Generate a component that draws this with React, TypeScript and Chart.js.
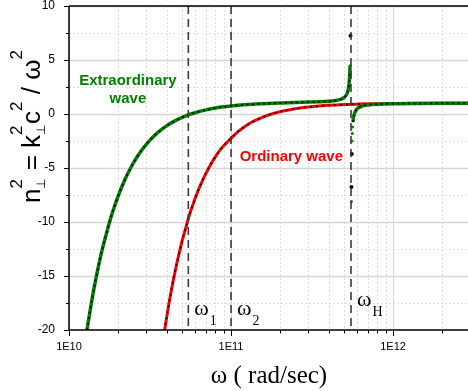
import React, { useEffect, useRef } from "react";
import { Chart, registerables } from "chart.js";

Chart.register(...registerables);

// ω values are in units of 1E10 rad/sec
const UNIT = 1e10;

// Extraordinary wave, below ωH
const xLowOmega = [1.29, 1.35, 1.4, 1.45, 1.5, 1.6, 1.7, 1.8, 1.9, 2.0, 2.2, 2.4, 2.6, 2.8, 3.0, 3.3, 3.6, 4.0, 4.5, 5.0, 5.5, 6.0, 7.0, 8.0, 9.0, 10, 12, 14, 17, 20, 25, 30, 35, 40, 45, 48, 50, 52, 53, 53.5, 54.0, 54.3];
const xLowN2 = [-20.0, -18.2, -16.8, -15.6, -14.5, -12.6, -11.1, -9.75, -8.64, -7.69, -6.16, -5.0, -4.1, -3.38, -2.81, -2.13, -1.61, -1.1, -0.64, -0.31, -0.06, 0.12, 0.38, 0.55, 0.67, 0.75, 0.86, 0.92, 0.98, 1.02, 1.07, 1.1, 1.13, 1.18, 1.27, 1.39, 1.54, 1.89, 2.33, 2.78, 3.66, 4.47];

// Extraordinary wave, above ωH
const xHighOmega = [56.5, 57, 58, 60, 65, 70, 80, 100, 150, 200, 300];
const xHighN2 = [-0.75, -0.31, 0.13, 0.48, 0.75, 0.84, 0.91, 0.955, 0.98, 0.99, 1.0];

// Ordinary wave
const oOmega = [3.88, 3.9, 4.0, 4.1, 4.2, 4.3, 4.4, 4.5, 4.6, 4.7, 4.8, 5.0, 5.2, 5.4, 5.6, 5.8, 6.0, 6.3, 6.6, 7.0, 7.5, 8.0, 8.5, 9.0, 10, 11, 12, 13, 14, 16, 18, 20, 23, 26, 30, 35, 40, 45, 50, 55, 60, 70, 80, 100, 150, 200, 300];
const oN2 = [-20.1, -19.9, -18.9, -17.9, -17.0, -16.2, -15.4, -14.7, -14.0, -13.4, -12.8, -11.7, -10.8, -9.9, -9.1, -8.45, -7.83, -7.0, -6.3, -5.5, -4.65, -3.97, -3.4, -2.95, -2.25, -1.66, -1.22, -0.88, -0.62, -0.24, 0.02, 0.21, 0.4, 0.53, 0.65, 0.74, 0.8, 0.84, 0.87, 0.89, 0.91, 0.94, 0.95, 0.97, 0.99, 0.99, 1.0];

// isolated points near the resonance
const nearHBlackOmega = [54.6, 55.35, 55.6];
const nearHBlackN2 = [7.25, -6.75, -3.7];
const nearHGreenOmega = [54.15, 54.3, 55.28, 55.8, 56.0, 56.25];
const nearHGreenN2 = [4.0, 4.47, -8.1, -2.5, -1.8, -1.2];

// vertical marker lines
const markerOmega = [5.45, 10, 55];
const markerSub = ["1", "2", "H"];

// axis ticks
const xMajorOmega = [1, 10, 100];
const xTickLabels = ["1E10", "1E11", "1E12"];
const yMajorTicks = [-20, -15, -10, -5, 0, 5, 10];

const X_MIN = 1e10;
const X_MAX = 2.9e12;
const Y_MIN = -20;
const Y_MAX = 10;

const GREEN = "#008000";
const RED = "#ff0000";
const SANS = '"Liberation Sans", Arial, sans-serif';
const SERIF = '"Liberation Serif", "Times New Roman", serif';

const pts = (ws: number[], ns: number[]) => ws.map((w, i) => ({ x: w * UNIT, y: ns[i] }));

const xAllTicks: number[] = [];
xMajorOmega.forEach((d) => {
  for (let m = 1; m <= 9; m++) {
    const v = d * m * UNIT;
    if (v <= X_MAX * 1.0001) xAllTicks.push(v);
  }
});
const isXMajor = (v: number) => xMajorOmega.some((d) => Math.abs(d * UNIT - v) < 1);

const decor = {
  id: "decor",
  beforeDatasetsDraw(chart: any) {
    const { ctx, chartArea: a, scales } = chart;
    const x = scales.x;
    const y = scales.y;
    ctx.save();
    ctx.beginPath();
    ctx.rect(a.left, a.top, a.right - a.left, a.bottom - a.top);
    ctx.clip();
    ctx.lineWidth = 1;
    xAllTicks.forEach((v) => {
      const px = Math.round(x.getPixelForValue(v)) + 0.5;
      if (isXMajor(v)) {
        ctx.setLineDash([]);
        ctx.strokeStyle = "#d6d6d6";
      } else {
        ctx.setLineDash([2, 2]);
        ctx.strokeStyle = "#dedede";
      }
      ctx.beginPath();
      ctx.moveTo(px, a.top);
      ctx.lineTo(px, a.bottom);
      ctx.stroke();
    });
    for (let v = Y_MIN; v <= Y_MAX; v += 2.5) {
      const py = Math.round(y.getPixelForValue(v)) + 0.5;
      if (v % 5 === 0) {
        ctx.setLineDash([]);
        ctx.strokeStyle = "#d6d6d6";
        ctx.lineWidth = 1.5;
      } else {
        ctx.setLineDash([2, 2]);
        ctx.strokeStyle = "#dedede";
        ctx.lineWidth = 1;
      }
      ctx.beginPath();
      ctx.moveTo(a.left, py);
      ctx.lineTo(a.right, py);
      ctx.stroke();
    }
    ctx.restore();
  },
  afterDatasetsDraw(chart: any) {
    const { ctx, chartArea: a, scales } = chart;
    const x = scales.x;
    const y = scales.y;
    ctx.save();
    ctx.strokeStyle = "#3a3a3a";
    ctx.lineWidth = 1.6;
    ctx.setLineDash([8, 5]);
    markerOmega.forEach((w) => {
      const px = x.getPixelForValue(w * UNIT);
      ctx.beginPath();
      ctx.moveTo(px, a.top);
      ctx.lineTo(px, a.bottom);
      ctx.stroke();
    });
    ctx.setLineDash([]);
    ctx.strokeStyle = "#000";
    ctx.lineWidth = 1.5;
    ctx.beginPath();
    ctx.moveTo(a.left, a.top);
    ctx.lineTo(a.right, a.top);
    ctx.moveTo(a.left, a.top);
    ctx.lineTo(a.left, a.bottom);
    ctx.lineTo(a.right, a.bottom);
    ctx.stroke();
    ctx.lineWidth = 1;
    xAllTicks.forEach((v) => {
      const px = Math.round(x.getPixelForValue(v)) + 0.5;
      const len = isXMajor(v) ? 6 : 3.5;
      ctx.beginPath();
      ctx.moveTo(px, a.bottom);
      ctx.lineTo(px, a.bottom + len);
      ctx.stroke();
    });
    for (let v = Y_MIN; v <= Y_MAX; v += 2.5) {
      const py = Math.round(y.getPixelForValue(v)) + 0.5;
      const len = v % 5 === 0 ? 5 : 3;
      ctx.beginPath();
      ctx.moveTo(a.left, py);
      ctx.lineTo(a.left - len, py);
      ctx.stroke();
    }
    ctx.fillStyle = "#000";
    ctx.textAlign = "left";
    ctx.textBaseline = "alphabetic";
    markerOmega.forEach((w, i) => {
      const px = x.getPixelForValue(w * UNIT) + 6;
      const base = i === 2 ? y.getPixelForValue(-17.8) : y.getPixelForValue(-18.6);
      ctx.font = "22px " + SERIF;
      ctx.fillText("ω", px, base);
      const ww = ctx.measureText("ω").width;
      ctx.font = "14px " + SERIF;
      ctx.fillText(markerSub[i], px + ww + 1, base + 10);
    });
    ctx.font = "bold 15px " + SANS;
    ctx.textAlign = "center";
    ctx.fillStyle = GREEN;
    const ex = x.getPixelForValue(2.31 * UNIT);
    ctx.fillText("Extraordinary", ex, y.getPixelForValue(2.69));
    ctx.fillText("wave", ex, y.getPixelForValue(1.02));
    ctx.textAlign = "left";
    ctx.fillStyle = RED;
    ctx.fillText("Ordinary wave", x.getPixelForValue(11.3 * UNIT), y.getPixelForValue(-4.35));
    ctx.restore();
  },
  afterDraw(chart: any) {
    const { ctx } = chart;
    ctx.save();
    ctx.fillStyle = "#000";
    ctx.textBaseline = "alphabetic";
    ctx.textAlign = "center";
    ctx.font = "25px " + SERIF;
    ctx.fillText("ω ( rad/sec)", 269, 383);
    ctx.textAlign = "left";
    ctx.translate(40, 203);
    ctx.rotate(-Math.PI / 2);
    const main = "26px " + SANS;
    const sup = "17px " + SANS;
    const sub = "12px " + SANS;
    let cx = 0;
    const put = (t: string, f: string, dy: number) => {
      ctx.font = f;
      ctx.fillText(t, cx, dy);
      return ctx.measureText(t).width;
    };
    const stack = () => {
      const w1 = put("2", sup, -18);
      const w2 = put("⊥", sub, 5);
      cx += Math.max(w1, w2) + 1;
    };
    cx += put("n", main, 0);
    stack();
    cx += put(" = k", main, 0);
    stack();
    cx += put("c", main, 0);
    cx += put("2", sup, -18);
    cx += put(" / ω", main, 0);
    put("2", sup, -18);
    ctx.restore();
  },
};

export default function App() {
  const ref = useRef<HTMLCanvasElement | null>(null);
  useEffect(() => {
    if (!ref.current) return;
    const chart = new Chart(ref.current, {
      type: "line",
      data: {
        datasets: [
          { data: pts(nearHBlackOmega, nearHBlackN2), showLine: false, pointRadius: 2, pointBackgroundColor: "#000", pointBorderWidth: 0, order: 0 } as any,
          { data: pts(nearHGreenOmega, nearHGreenN2), showLine: false, pointRadius: 1.5, pointBackgroundColor: GREEN, pointBorderWidth: 0, order: 1 } as any,
          { data: pts(xLowOmega, xLowN2), borderColor: "#111", borderWidth: 2, borderDash: [2, 3.5], pointRadius: 0, cubicInterpolationMode: "monotone", order: 2 } as any,
          { data: pts(xHighOmega, xHighN2), borderColor: "#111", borderWidth: 2, borderDash: [2, 3.5], pointRadius: 0, cubicInterpolationMode: "monotone", order: 2 } as any,
          { data: pts(xLowOmega, xLowN2), borderColor: GREEN, borderWidth: 3.5, pointRadius: 0, cubicInterpolationMode: "monotone", order: 3 } as any,
          { data: pts(xHighOmega, xHighN2), borderColor: GREEN, borderWidth: 3.5, pointRadius: 0, cubicInterpolationMode: "monotone", order: 3 } as any,
          { data: pts(oOmega, oN2), borderColor: "#111", borderWidth: 1.8, borderDash: [2, 4], pointRadius: 0, cubicInterpolationMode: "monotone", order: 4 } as any,
          { data: pts(oOmega, oN2), borderColor: RED, borderWidth: 3, pointRadius: 0, cubicInterpolationMode: "monotone", order: 5 } as any,
        ],
      },
      options: {
        animation: false,
        responsive: false,
        devicePixelRatio: 1,
        layout: { autoPadding: false, padding: { top: 6, right: 0, left: 0, bottom: 0 } },
        plugins: { legend: { display: false }, tooltip: { enabled: false }, title: { display: false } },
        scales: {
          x: {
            type: "logarithmic",
            min: X_MIN,
            max: X_MAX,
            grid: { display: false },
            border: { display: false },
            afterBuildTicks: (s: any) => {
              s.ticks = xAllTicks.map((v) => ({ value: v }));
            },
            afterFit: (s: any) => {
              s.height = 61;
              s.paddingLeft = 0;
              s.paddingRight = 0;
            },
            ticks: {
              autoSkip: false,
              maxRotation: 0,
              minRotation: 0,
              padding: 2,
              color: "#000",
              font: { family: SANS, size: 11 },
              callback: (v: any) => {
                const i = xMajorOmega.findIndex((d) => Math.abs(d * UNIT - Number(v)) < 1);
                return i >= 0 ? xTickLabels[i] : "";
              },
            },
          },
          y: {
            type: "linear",
            min: Y_MIN,
            max: Y_MAX,
            grid: { display: false },
            border: { display: false },
            afterFit: (s: any) => {
              s.width = 69;
              s.paddingTop = 0;
              s.paddingBottom = 0;
            },
            ticks: {
              stepSize: 2.5,
              padding: 6,
              color: "#000",
              font: { family: SANS, size: 12 },
              callback: (v: any) => (yMajorTicks.includes(Number(v)) ? String(v) : ""),
            },
          },
        },
      } as any,
      plugins: [decor],
    });
    return () => chart.destroy();
  }, []);
  return (
    <div style={{ position: "absolute", left: 0, top: 0, width: 468, height: 391, background: "#fff" }}>
      <canvas ref={ref} width={468} height={391} style={{ display: "block" }} />
    </div>
  );
}
